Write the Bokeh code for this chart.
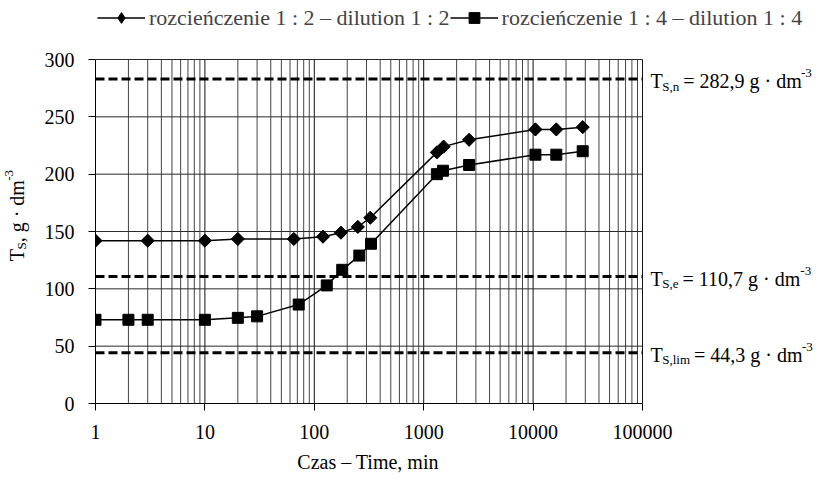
import math
from bokeh.plotting import figure
from bokeh.layouts import row
from bokeh.models import (Range1d, FixedTicker, Label, Legend, LegendItem, Title,
                          NumeralTickFormatter)
from bokeh.embed import file_html
from bokeh.resources import INLINE

# ---- data ----
time_12 = [1, 3, 10, 20, 65, 120, 175, 250, 325, 1320, 1520, 2600, 10500, 16300, 28400]
ts_12 = [142, 142, 142, 143.5, 143.5, 145.5, 149, 154, 162, 219, 224, 230, 239, 239, 241]
time_14 = [1, 2, 3, 10, 20, 30, 72, 130, 180, 258, 330, 1320, 1500, 2600, 10500, 16300, 28400]
ts_14 = [73, 73, 73, 73, 74.7, 76, 86.3, 103, 116.6, 129, 139.3, 200, 203, 208, 217, 217, 220]

label_12 = "rozcieńczenie 1 : 2 – dilution 1 : 2"
label_14 = "rozcieńczenie 1 : 4 – dilution 1 : 4"

limit_values = [282.9, 110.7, 44.3]
limit_subs = ["S,n", "S,e", "S,lim"]
limit_texts = ["= 282,9 g · dm", "= 110,7 g · dm", "= 44,3 g · dm"]

x_title = "Czas – Time, min"
x_ticks = [1, 10, 100, 1000, 10000, 100000]
x_minor = [m * 10 ** e for e in range(0, 5) for m in range(2, 10)]
y_ticks = [0, 50, 100, 150, 200, 250, 300]
x_min, x_max = 1, 100000
y_min, y_max = 0, 300

FONT = "Liberation Serif"
F = 20      # main font px
FL = 22     # legend font px
FS = 13     # sub/superscript px

# approximate Times advance widths (em) for layout of composed labels
W = {"T": .611, "S": .556, ",": .25, "n": .5, "e": .444, "l": .278, "i": .278, "m": .778,
     " ": .25, "=": .564, "g": .5, "·": .25, "d": .5, "-": .333, ".": .25}
for c in "0123456789":
    W[c] = .5


def tw(s, size):
    return sum(W.get(c, .5) for c in s) * size


# layout geometry (pixels)
LEFT_W = 30
FRAME_L = 95            # canvas x of x=1
FRAME_AX_R = 642        # canvas x of x=100000
AX_TOP = 59             # canvas y of y=300
AX_BOT = 403            # canvas y of y=0
H = 483
main_w = 820 - LEFT_W
frame_w = 820 - FRAME_L
decade_px = (FRAME_AX_R - FRAME_L) / 5.0
x_end = 10 ** (frame_w / decade_px)
unit_px = (AX_BOT - AX_TOP) / float(y_max - y_min)
y_end = AX_BOT / unit_px

y_range = Range1d(0, y_end)

p = figure(width=main_w, height=H, x_axis_type="log",
           x_range=Range1d(1, x_end), y_range=y_range,
           output_backend="svg", toolbar_location=None)
p.min_border_left = FRAME_L - LEFT_W
p.min_border_right = 0
p.min_border_top = 0
p.min_border_bottom = H - AX_BOT
p.outline_line_color = None
p.background_fill_color = "white"
p.border_fill_color = "white"
p.grid.visible = False

# grid lines limited to the axis span
p.segment(x0=x_minor, x1=x_minor, y0=[y_min] * len(x_minor), y1=[y_max] * len(x_minor),
          line_color="#454545", line_width=1)
p.segment(x0=x_ticks[1:], x1=x_ticks[1:], y0=[y_min] * 5, y1=[y_max] * 5,
          line_color="#111111", line_width=1)
p.segment(x0=[x_min] * 6, x1=[x_max] * 6, y0=y_ticks[1:], y1=y_ticks[1:],
          line_color="#2a2a2a", line_width=1)

# axes
p.xaxis.bounds = (x_min, x_max)
p.yaxis.bounds = (y_min, y_max)
p.xaxis.ticker = FixedTicker(ticks=x_ticks, minor_ticks=[])
p.xaxis.formatter = NumeralTickFormatter(format="0")
p.yaxis.ticker = FixedTicker(ticks=y_ticks, minor_ticks=[])
for ax in (p.xaxis[0], p.yaxis[0]):
    ax.axis_line_color = "black"
    ax.axis_line_width = 1
    ax.major_tick_line_color = "black"
    ax.major_tick_in = 0
    ax.major_tick_out = 7
    ax.minor_tick_line_color = None
    ax.major_label_text_font = FONT
    ax.major_label_text_font_size = f"{F}px"
    ax.major_label_text_color = "black"
p.yaxis.major_label_standoff = 14
p.xaxis.major_label_standoff = 14

# x-axis title centred under the axis span (not the whole frame)
p.add_layout(Title(text=x_title, align="left",
                   offset=(FRAME_AX_R + FRAME_L) / 2 - FRAME_L - tw("Czas – Time, min", F) / 2,
                   text_font=FONT, text_font_size=f"{F}px", text_font_style="normal",
                   text_color="black", standoff=14), "below")

# limit lines (dashed)
p.segment(x0=[x_min] * 3, x1=[x_max] * 3, y0=limit_values, y1=limit_values,
          line_color="black", line_width=3, line_dash="9 4")

# series
l1 = p.line(time_12, ts_12, line_color="black", line_width=1.5)
# diamond marker (used as legend key) under the rotated-square markers
k1 = p.scatter(time_12, ts_12, marker="diamond", size=12,
               fill_color="black", line_color="black")
s1 = p.scatter(time_12, ts_12, marker="square", angle=math.pi / 4, size=9.3,
               fill_color="black", line_color="black")
l2 = p.line(time_14, ts_14, line_color="black", line_width=1.5)
s2 = p.scatter(time_14, ts_14, marker="square", size=11,
               fill_color="black", line_color="black")

legend = Legend(items=[LegendItem(label=label_12, renderers=[l1, k1]),
                       LegendItem(label=label_14, renderers=[l2, s2])],
                orientation="horizontal", location=(2, AX_BOT - 31),
                border_line_color=None, background_fill_alpha=0,
                label_text_font=FONT, label_text_font_size=f"{FL}px",
                glyph_width=48, glyph_height=27, label_standoff=4, spacing=0,
                padding=0, margin=0)
p.add_layout(legend, "center")

# right-hand annotations T_S,x = ... g · dm^-3
for v, sub, txt in zip(limit_values, limit_subs, limit_texts):
    x0 = 8
    common = dict(x=x_max, y=v, text_font=FONT, text_color="black",
                  text_baseline="alphabetic", text_align="left")
    p.add_layout(Label(text="T", x_offset=x0, y_offset=-2, text_font_size=f"{F}px", **common))
    x1 = x0 + tw("T", F) - 0.5
    p.add_layout(Label(text=sub, x_offset=x1, y_offset=-7, text_font_size=f"{FS}px", **common))
    x2 = x1 + tw(sub, FS) + 4
    p.add_layout(Label(text=txt, x_offset=x2, y_offset=-2, text_font_size=f"{F}px", **common))
    x3 = x2 + tw(txt, F) + 1
    p.add_layout(Label(text="-3", x_offset=x3, y_offset=6, text_font_size=f"{FS}px", **common))

# left strip with rotated y-axis title T_S, g · dm^-3
q = figure(width=LEFT_W, height=H, x_range=Range1d(0, LEFT_W), y_range=y_range,
           x_axis_location=None, y_axis_location=None,
           output_backend="svg", toolbar_location=None)
q.min_border_left = 0
q.min_border_right = 0
q.min_border_top = 0
q.min_border_bottom = H - AX_BOT
q.outline_line_color = None
q.grid.visible = False

ybase = 124
xb = 16
common = dict(x=xb, y=ybase, text_font=FONT, text_color="black", angle=math.pi / 2,
              text_baseline="alphabetic", text_align="left")
q.add_layout(Label(text="T", x_offset=0, y_offset=0, text_font_size=f"{F}px", **common))
o1 = tw("T", F) - 0.5
q.add_layout(Label(text="S", x_offset=5, y_offset=o1, text_font_size=f"{FS}px", **common))
o2 = o1 + tw("S", FS)
q.add_layout(Label(text=", g · dm", x_offset=0, y_offset=o2, text_font_size=f"{F}px", **common))
o3 = o2 + tw(", g · dm", F) + 1
q.add_layout(Label(text="-3", x_offset=-8, y_offset=o3, text_font_size=f"{FS}px", **common))

layout = row(q, p)
open("out.html", "w").write(file_html(layout, INLINE))
